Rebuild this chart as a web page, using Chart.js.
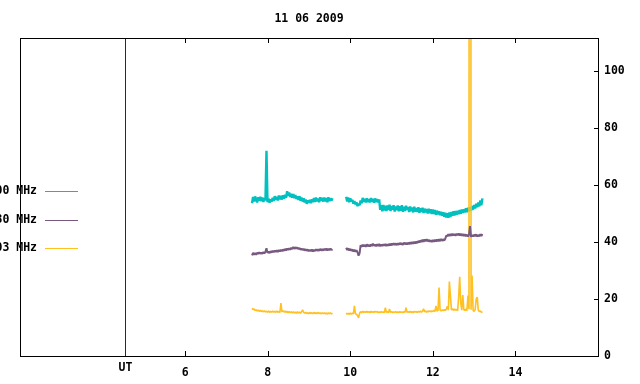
<!DOCTYPE html>
<html>
<head>
<meta charset="utf-8">
<script src="https://cdn.jsdelivr.net/npm/chart.js@4.4.0/dist/chart.umd.min.js"></script>
<style>
  html, body { margin: 0; padding: 0; background: #fff; }
</style>
</head>
<body>
<canvas id="chart" width="640" height="384"></canvas>
<script>
const TITLE = '11 06 2009';
const X_MIN = 2, X_MAX = 16;
const Y_MIN = 0, Y_MAX = 111.6;
const X_TICKS = [6, 8, 10, 12, 14];
const Y_TICKS = [0, 20, 40, 60, 80, 100];
const UT_HOUR = 4.54;
const UT_LABEL = 'UT';

const LABELS = ['2800 MHz', '1430 MHz', '1003 MHz'];
const COLORS = ['#00c0c0', '#785a80', '#ffc020'];

// hours UT, morning block and afternoon block
const TIME_A = [7.620, 7.645, 7.670, 7.695, 7.720, 7.745, 7.770, 7.795, 7.820, 7.845,
  7.870, 7.895, 7.920, 7.945, 7.970, 7.995, 8.020, 8.045, 8.070, 8.095,
  8.120, 8.145, 8.170, 8.195, 8.220, 8.245, 8.270, 8.295, 8.320, 8.345,
  8.370, 8.395, 8.420, 8.445, 8.470, 8.495, 8.520, 8.545, 8.570, 8.595,
  8.620, 8.645, 8.670, 8.695, 8.720, 8.745, 8.770, 8.795, 8.820, 8.845,
  8.870, 8.895, 8.920, 8.945, 8.970, 8.995, 9.020, 9.045, 9.070, 9.095,
  9.120, 9.145, 9.170, 9.195, 9.220, 9.245, 9.270, 9.295, 9.320, 9.345,
  9.370, 9.395, 9.420, 9.445, 9.470, 9.495, 9.520, 9.545, 9.570];
const TIME_B = [9.900, 9.925, 9.950, 9.975, 10.000, 10.025, 10.050, 10.075, 10.100, 10.125,
  10.150, 10.175, 10.200, 10.225, 10.250, 10.275, 10.300, 10.325, 10.350, 10.375,
  10.400, 10.425, 10.450, 10.475, 10.500, 10.525, 10.550, 10.575, 10.600, 10.625,
  10.650, 10.675, 10.700, 10.725, 10.750, 10.775, 10.800, 10.825, 10.850, 10.875,
  10.900, 10.925, 10.950, 10.975, 11.000, 11.025, 11.050, 11.075, 11.100, 11.125,
  11.150, 11.175, 11.200, 11.225, 11.250, 11.275, 11.300, 11.325, 11.350, 11.375,
  11.400, 11.425, 11.450, 11.475, 11.500, 11.525, 11.550, 11.575, 11.600, 11.625,
  11.650, 11.675, 11.700, 11.725, 11.750, 11.775, 11.800, 11.825, 11.850, 11.875,
  11.900, 11.925, 11.950, 11.975, 12.000, 12.025, 12.050, 12.075, 12.100, 12.125,
  12.150, 12.175, 12.200, 12.225, 12.250, 12.275, 12.300, 12.325, 12.350, 12.375,
  12.400, 12.425, 12.450, 12.475, 12.500, 12.525, 12.550, 12.575, 12.600, 12.625,
  12.650, 12.675, 12.700, 12.725, 12.750, 12.775, 12.800, 12.825, 12.850, 12.875,
  12.900, 12.925, 12.950, 12.975, 13.000, 13.025, 13.050, 13.075, 13.100, 13.125,
  13.150, 13.175, 13.200];

const CYAN_A = [53.6, 55.8, 54.2, 56.0, 54.9, 53.9, 55.7, 54.5, 55.9, 54.3,
  55.6, 54.1, 55.4, 54.6, 72.0, 54.0, 55.3, 53.8, 55.0, 54.2,
  55.5, 54.4, 56.1, 54.8, 55.9, 54.6, 56.3, 55.0, 56.2, 54.9,
  56.4, 55.2, 56.6, 55.5, 57.8, 56.2, 57.4, 55.8, 56.9, 55.6,
  56.8, 55.4, 56.5, 55.1, 56.0, 54.8, 56.1, 54.5, 55.6, 54.2,
  55.3, 53.9, 54.9, 53.4, 54.6, 53.8, 54.8, 53.6, 55.0, 54.0,
  55.4, 54.1, 55.6, 54.3, 55.2, 54.0, 55.7, 54.4, 55.5, 54.2,
  55.6, 54.3, 55.4, 54.0, 55.7, 54.4, 55.3, 54.6, 55.4];
const CYAN_B = [55.9, 54.2, 55.6, 54.0, 55.3, 54.3, 54.8, 53.5, 54.4, 53.2,
  53.9, 52.6, 53.4, 52.9, 54.6, 53.6, 55.5, 54.1, 55.2, 53.9,
  55.3, 54.0, 55.1, 53.9, 55.4, 54.1, 55.2, 53.8, 55.3, 54.0,
  55.1, 53.9, 55.0, 51.3, 52.9, 50.8, 53.0, 51.1, 52.7, 50.9,
  52.8, 51.2, 53.1, 50.9, 52.6, 51.4, 52.9, 50.7, 52.5, 51.2,
  52.8, 50.8, 52.6, 51.0, 52.9, 50.6, 52.4, 50.9, 52.7, 51.3,
  52.3, 50.5, 52.5, 50.8, 52.1, 50.4, 52.4, 50.7, 51.9, 50.6,
  52.2, 50.3, 51.8, 50.6, 52.0, 50.2, 51.7, 50.4, 51.6, 50.0,
  51.7, 50.1, 51.5, 49.8, 51.4, 49.9, 51.2, 49.6, 51.0, 49.7,
  50.8, 49.4, 50.6, 49.2, 50.4, 48.9, 50.3, 48.6, 50.1, 48.5,
  50.4, 48.8, 50.5, 49.2, 50.8, 49.3, 50.9, 49.6, 51.0, 49.8,
  51.2, 49.9, 51.4, 50.2, 51.5, 50.4, 51.8, 50.5, 52.0, 50.8,
  52.2, 51.0, 52.6, 51.4, 53.0, 51.8, 53.4, 52.2, 53.9, 52.5,
  54.6, 52.9, 55.3];

const PURPLE_A = [35.3, 36.2, 35.6, 36.1, 35.5, 36.3, 35.8, 36.4, 35.9, 36.3,
  35.9, 36.5, 36.0, 36.6, 37.8, 36.2, 36.7, 36.1, 36.8, 36.3,
  36.9, 36.4, 37.0, 36.5, 37.1, 36.5, 37.2, 36.7, 37.3, 36.8,
  37.4, 36.9, 37.6, 37.0, 37.7, 37.2, 37.8, 37.3, 38.0, 37.5,
  38.3, 37.6, 38.2, 37.7, 38.1, 37.5, 37.9, 37.3, 37.7, 37.2,
  37.6, 37.0, 37.5, 36.9, 37.4, 36.8, 37.3, 36.8, 37.4, 36.7,
  37.3, 36.8, 37.5, 36.9, 37.4, 36.9, 37.6, 37.0, 37.5, 37.0,
  37.6, 37.1, 37.7, 37.0, 37.6, 37.1, 37.7, 37.2, 37.5];
const PURPLE_B = [38.0, 37.2, 37.8, 37.0, 37.6, 36.9, 37.4, 36.7, 37.3, 36.6,
  37.1, 36.4, 35.2, 36.0, 38.9, 38.3, 39.1, 38.4, 39.0, 38.3,
  39.2, 38.5, 39.0, 38.4, 39.2, 38.6, 39.4, 38.7, 39.1, 38.5,
  39.2, 38.6, 39.3, 38.5, 39.1, 38.6, 39.2, 38.7, 39.3, 38.6,
  39.2, 38.7, 39.4, 38.8, 39.5, 38.9, 39.6, 39.0, 39.5, 38.9,
  39.6, 39.0, 39.7, 39.1, 39.6, 39.0, 39.8, 39.2, 39.7, 39.1,
  39.8, 39.2, 39.9, 39.3, 40.0, 39.4, 40.1, 39.5, 40.2, 39.6,
  40.4, 39.8, 40.6, 40.0, 40.8, 40.1, 40.9, 40.3, 41.0, 40.2,
  40.8, 40.1, 40.6, 40.0, 40.7, 40.1, 40.8, 40.2, 40.9, 40.3,
  41.0, 40.3, 41.1, 40.4, 41.0, 40.5, 41.1, 42.3, 42.0, 42.7,
  42.1, 42.8, 42.2, 42.9, 42.3, 42.8, 42.2, 42.9, 42.4, 43.0,
  42.3, 42.9, 42.2, 42.8, 42.1, 42.7, 42.0, 42.6, 41.9, 42.6,
  45.6, 41.8, 42.5, 41.9, 42.6, 42.0, 42.7, 41.9, 42.5, 42.0,
  42.7, 42.1, 42.8];

const YELLOW_A = [16.8, 16.3, 16.5, 16.0, 16.2, 15.8, 16.1, 15.7, 16.0, 15.6,
  15.9, 15.5, 15.8, 15.5, 15.7, 15.4, 15.8, 15.3, 15.7, 15.4,
  15.8, 15.4, 15.7, 15.3, 15.8, 15.4, 15.6, 15.3, 18.6, 15.5,
  15.9, 15.4, 15.8, 15.3, 15.7, 15.2, 15.6, 15.2, 15.5, 15.1,
  15.5, 15.1, 15.4, 15.0, 15.5, 15.1, 15.4, 15.0, 15.6, 16.2,
  15.3, 15.0, 15.3, 14.9, 15.2, 14.8, 15.3, 14.9, 15.2, 14.8,
  15.3, 14.9, 15.2, 14.8, 15.3, 14.9, 15.1, 14.8, 15.2, 14.8,
  15.2, 14.8, 15.1, 14.7, 15.2, 14.8, 15.1, 14.8, 15.0];
const YELLOW_B = [15.1, 14.7, 15.0, 14.6, 15.1, 14.7, 15.0, 14.8, 17.6, 14.9,
  14.6, 14.2, 13.4, 15.0, 15.6, 15.2, 15.7, 15.3, 15.6, 15.3,
  15.7, 15.3, 15.6, 15.2, 15.7, 15.3, 15.6, 15.3, 15.7, 15.4,
  15.6, 15.2, 15.5, 15.2, 15.6, 15.3, 15.5, 15.2, 17.0, 15.3,
  15.6, 15.2, 16.5, 15.3, 15.6, 15.2, 15.5, 15.3, 15.6, 15.2,
  15.5, 15.2, 15.6, 15.3, 15.5, 15.2, 15.6, 15.3, 17.0, 15.3,
  15.6, 15.3, 15.7, 15.3, 15.6, 15.2, 15.7, 15.4, 15.6, 15.3,
  15.7, 15.4, 15.8, 15.4, 15.7, 16.6, 15.5, 15.8, 15.4, 15.8,
  15.5, 15.9, 15.5, 15.8, 15.6, 16.0, 15.6, 17.6, 15.8, 16.0,
  24.0, 16.1, 15.8, 16.2, 15.9, 16.3, 16.0, 16.4, 17.5, 16.1,
  26.1, 21.2, 16.2, 16.6, 16.0, 16.5, 16.1, 16.4, 15.9, 20.7,
  27.8, 18.6, 16.1, 21.4, 16.3, 16.0, 16.5, 15.9, 21.2, 16.4,
  1000, 16.2, 28.2, 16.0, 15.7, 16.3, 20.0, 20.7, 16.1, 15.6,
  15.8, 15.3, 15.6];

function series(a, b) {
  const pts = TIME_A.map((t, i) => ({ x: t, y: a[i] }));
  pts.push({ x: TIME_A[TIME_A.length - 1], y: null });
  return pts.concat(TIME_B.map((t, i) => ({ x: t, y: b[i] })));
}

const FONT = { family: "'DejaVu Sans Mono', monospace", size: 11.5, weight: 'bold' };

const gnuFrame = {
  id: 'gnuFrame',
  afterDraw(chart) {
    const { ctx, chartArea: a, scales: { x, y } } = chart;
    ctx.save();
    ctx.lineWidth = 1;

    // UT marker line
    const ux = Math.round(x.getPixelForValue(UT_HOUR)) + 0.5;
    ctx.strokeStyle = '#8b0000';
    ctx.beginPath();
    ctx.moveTo(ux, a.top);
    ctx.lineTo(ux, a.bottom);
    ctx.stroke();

    // border + inward ticks
    ctx.strokeStyle = '#000';
    ctx.strokeRect(a.left + 0.5, a.top + 0.5, a.right - a.left, a.bottom - a.top);
    ctx.beginPath();
    x.ticks.forEach(t => {
      const px = Math.round(x.getPixelForValue(t.value)) + 0.5;
      ctx.moveTo(px, a.bottom); ctx.lineTo(px, a.bottom - 5);
      ctx.moveTo(px, a.top); ctx.lineTo(px, a.top + 5);
    });
    y.ticks.forEach(t => {
      const py = Math.round(y.getPixelForValue(t.value)) + 0.5;
      ctx.moveTo(a.right, py); ctx.lineTo(a.right - 4, py);
    });
    ctx.stroke();

    ctx.fillStyle = '#000';
    ctx.font = `${FONT.weight} ${FONT.size}px ${FONT.family}`;
    ctx.textBaseline = 'middle';
    ctx.textAlign = 'center';
    ctx.fillText(TITLE, (a.left + a.right) / 2, 19);
    ctx.fillText(UT_LABEL, ux, 368);

    // legend, text right-aligned with sample line after it
    chart.data.datasets.forEach((ds, i) => {
      const ly = Math.round(191 + i * 28.5) + 0.5;
      ctx.textAlign = 'right';
      ctx.fillStyle = '#000';
      ctx.fillText(ds.label, 37, ly);
      ctx.strokeStyle = ds.borderColor;
      ctx.beginPath();
      ctx.moveTo(45, ly); ctx.lineTo(78, ly);
      ctx.stroke();
    });
    ctx.restore();
  }
};

const datasets = [
  { label: LABELS[0], data: series(CYAN_A, CYAN_B), borderColor: COLORS[0], borderWidth: 2.4, order: 3 },
  { label: LABELS[1], data: series(PURPLE_A, PURPLE_B), borderColor: COLORS[1], borderWidth: 2, order: 1 },
  { label: LABELS[2], data: series(YELLOW_A, YELLOW_B), borderColor: COLORS[2], borderWidth: 1.6, order: 2 }
];

new Chart(document.getElementById('chart'), {
  type: 'line',
  data: { datasets: datasets },
  options: {
    responsive: false,
    animation: false,
    spanGaps: false,
    layout: { padding: { left: 20, top: 38, right: 0, bottom: 0 } },
    elements: {
      point: { radius: 0 },
      line: { tension: 0, fill: false, borderJoinStyle: 'bevel' }
    },
    datasets: { line: { clip: 0 } },
    plugins: {
      legend: { display: false },
      tooltip: { enabled: false },
      title: { display: false }
    },
    scales: {
      x: {
        type: 'linear',
        min: X_MIN,
        max: X_MAX,
        grid: { display: false, drawTicks: false },
        border: { display: false },
        afterBuildTicks: s => { s.ticks = X_TICKS.map(v => ({ value: v })); },
        afterFit: s => { s.height = 28; },
        ticks: { font: FONT, color: '#000', padding: 10, maxRotation: 0 }
      },
      y: {
        position: 'right',
        min: Y_MIN,
        max: Y_MAX,
        grid: { display: false, drawTicks: false },
        border: { display: false },
        afterBuildTicks: s => { s.ticks = Y_TICKS.map(v => ({ value: v })); },
        afterFit: s => { s.width = 42; },
        ticks: { font: FONT, color: '#000', padding: 6 }
      }
    }
  },
  plugins: [gnuFrame]
});
</script>
</body>
</html>
